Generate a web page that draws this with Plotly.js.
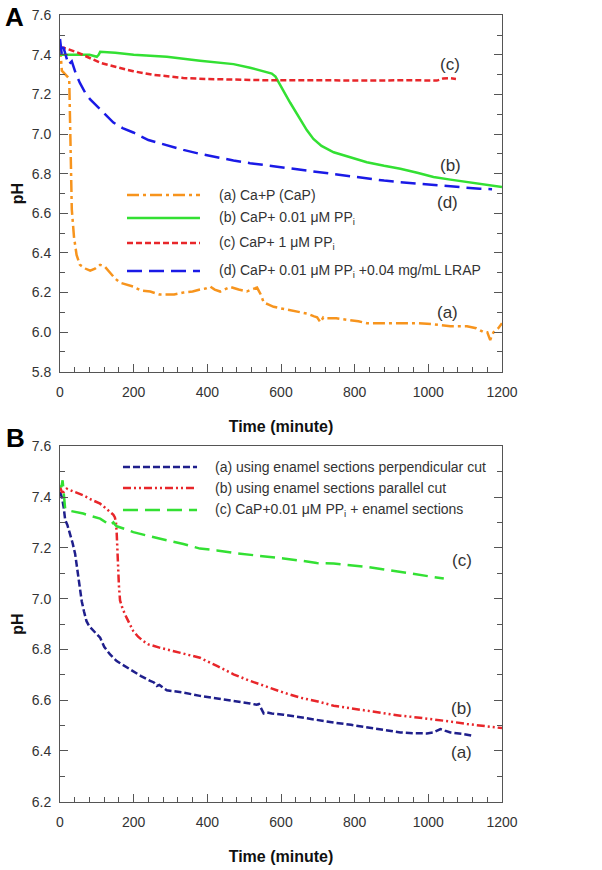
<!DOCTYPE html>
<html>
<head>
<meta charset="utf-8">
<script src="https://cdn.plot.ly/plotly-3.0.1.min.js"></script>
<style>
  body { margin: 0; background: #fff; }
  #plotArea { width: 602px; height: 870px; }
</style>
</head>
<body>
<div id="plotArea"></div>
<script>
// ---- panel A : pH vs time ----
var tA = [0, 5, 15, 25, 28, 30, 32, 38, 45, 54, 70, 82, 95, 109, 122, 136, 150, 163, 180, 199, 220, 245, 270, 290, 310, 335, 360, 380, 395, 408, 420, 435, 450, 462, 485, 507, 520, 535, 545, 553, 565, 580, 600, 625, 650, 670, 690, 698, 707, 715, 725, 750, 788, 810, 833, 870, 924, 970, 1014, 1040, 1060, 1080, 1105, 1130, 1150, 1160, 1168, 1172, 1177, 1190, 1200];
var pA = [7.45, 7.32, 7.30, 7.28, 7.0, 6.8, 6.62, 6.48, 6.39, 6.34, 6.32, 6.31, 6.32, 6.34, 6.33, 6.30, 6.27, 6.25, 6.24, 6.23, 6.21, 6.205, 6.19, 6.19, 6.19, 6.2, 6.205, 6.215, 6.22, 6.23, 6.215, 6.205, 6.22, 6.228, 6.215, 6.205, 6.215, 6.225, 6.19, 6.15, 6.14, 6.128, 6.12, 6.11, 6.10, 6.094, 6.08, 6.075, 6.05, 6.075, 6.07, 6.07, 6.06, 6.055, 6.045, 6.045, 6.045, 6.045, 6.04, 6.035, 6.03, 6.03, 6.03, 6.02, 6.0, 6.0, 5.96, 5.98, 6.0, 6.02, 6.045];

var tB = [0, 20, 50, 80, 100, 105, 109, 150, 200, 290, 380, 471, 516, 545, 562, 575, 585, 598, 612, 625, 640, 652, 670, 688, 710, 743, 790, 833, 880, 924, 970, 1014, 1060, 1105, 1150, 1200];
var pB = [7.40, 7.40, 7.40, 7.40, 7.39, 7.40, 7.415, 7.41, 7.40, 7.39, 7.37, 7.353, 7.335, 7.32, 7.315, 7.305, 7.29, 7.25, 7.2, 7.158, 7.11, 7.075, 7.02, 6.975, 6.94, 6.908, 6.88, 6.858, 6.84, 6.825, 6.805, 6.783, 6.77, 6.758, 6.745, 6.733];

var tC = [0, 20, 50, 80, 109, 150, 199, 250, 300, 335, 400, 471, 550, 650, 750, 800, 850, 950, 1023, 1040, 1060, 1075];
var pC = [7.44, 7.43, 7.41, 7.385, 7.36, 7.34, 7.317, 7.3, 7.29, 7.283, 7.278, 7.275, 7.272, 7.272, 7.27, 7.268, 7.27, 7.272, 7.27, 7.28, 7.282, 7.278];

var tD = [0, 3, 5, 9, 16, 23, 32, 42, 54, 68, 82, 95, 109, 127, 145, 170, 199, 240, 290, 335, 380, 425, 471, 516, 562, 607, 652, 700, 743, 790, 833, 880, 924, 970, 1014, 1060, 1105, 1140, 1173];
var pD = [7.48, 7.44, 7.40, 7.44, 7.40, 7.35, 7.367, 7.31, 7.258, 7.21, 7.175, 7.15, 7.125, 7.09, 7.058, 7.03, 7.008, 6.97, 6.942, 6.92, 6.9, 6.883, 6.867, 6.853, 6.842, 6.83, 6.817, 6.807, 6.797, 6.787, 6.775, 6.765, 6.757, 6.75, 6.74, 6.733, 6.728, 6.724, 6.722];

// ---- panel B ----
var tE = [0, 5, 10, 14, 20, 27, 34, 41, 50, 54, 59, 65, 72, 80, 91, 100, 109, 120, 136, 154, 175, 199, 220, 245, 255, 263, 270, 290, 335, 380, 426, 471, 516, 534, 540, 546, 553, 562, 575, 607, 652, 700, 743, 790, 833, 880, 924, 960, 996, 1014, 1033, 1045, 1060, 1090, 1119];
var pE = [7.42, 7.40, 7.36, 7.31, 7.29, 7.256, 7.22, 7.177, 7.072, 7.03, 6.99, 6.95, 6.911, 6.89, 6.872, 6.86, 6.846, 6.81, 6.78, 6.754, 6.735, 6.715, 6.695, 6.676, 6.67, 6.656, 6.66, 6.639, 6.63, 6.617, 6.608, 6.597, 6.587, 6.582, 6.585, 6.565, 6.548, 6.552, 6.548, 6.543, 6.532, 6.522, 6.512, 6.503, 6.493, 6.483, 6.473, 6.47, 6.469, 6.473, 6.486, 6.48, 6.473, 6.468, 6.46];

var tF = [0, 5, 10, 18, 40, 63, 85, 109, 125, 136, 145, 149, 152, 154, 156, 158, 160, 163, 170, 181, 190, 199, 212, 226, 240, 254, 270, 290, 320, 344, 380, 426, 471, 516, 562, 607, 652, 700, 743, 790, 833, 880, 924, 970, 1014, 1060, 1105, 1150, 1200];
var pF = [7.44, 7.42, 7.42, 7.433, 7.42, 7.407, 7.39, 7.374, 7.355, 7.341, 7.33, 7.32, 7.30, 7.256, 7.18, 7.11, 7.05, 6.993, 6.96, 6.924, 6.895, 6.872, 6.85, 6.833, 6.82, 6.813, 6.807, 6.8, 6.79, 6.78, 6.767, 6.735, 6.702, 6.676, 6.652, 6.63, 6.61, 6.595, 6.578, 6.568, 6.558, 6.548, 6.539, 6.532, 6.525, 6.516, 6.506, 6.498, 6.49];

var tG = [0, 4, 7, 10, 14, 30, 63, 85, 109, 125, 136, 141, 145, 150, 154, 175, 199, 245, 290, 335, 380, 426, 471, 516, 562, 607, 652, 697, 743, 790, 833, 880, 924, 970, 1042];
var pG = [7.446, 7.44, 7.466, 7.40, 7.354, 7.345, 7.335, 7.325, 7.315, 7.30, 7.289, 7.295, 7.30, 7.29, 7.285, 7.275, 7.262, 7.245, 7.23, 7.215, 7.197, 7.19, 7.18, 7.173, 7.167, 7.158, 7.15, 7.14, 7.138, 7.132, 7.125, 7.115, 7.105, 7.095, 7.079];

var namesA = ["(a) Ca+P (CaP)", "(b) CaP+ 0.01 μM PP<sub>i</sub>", "(c) CaP+ 1 μM PP<sub>i</sub>", "(d) CaP+ 0.01 μM PP<sub>i</sub> +0.04 mg/mL LRAP"];
var namesB = ["(a) using enamel sections perpendicular cut", "(b) using enamel sections parallel cut", "(c) CaP+0.01 μM PP<sub>i</sub> + enamel sections"];

var font = "Liberation Sans, Arial, sans-serif";
var orange = "#F7941D", green = "#33E033", red = "#E8262A", blue = "#1A1AE6", navy = "#1F1F8C";

// styles: [color, dash] per series
var stylesA = [[orange, "12px,4px,3px,4px"], [green, "solid"], [red, "6px,3px"], [blue, "15px,7px"]];
var stylesB = [[navy, "7px,3px"], [red, "8px,3px,2px,3px,2px,3px"], [green, "15px,7px"]];

function tr(x, y, st, xa, ya) {
    return {x: x, y: y, mode: "lines", type: "scatter", xaxis: xa, yaxis: ya,
        line: {color: st[0], dash: st[1], width: 2.5}, showlegend: false, hoverinfo: "skip"};
}

var data = [
    tr(tA, pA, stylesA[0], "x", "y"),
    tr(tB, pB, stylesA[1], "x", "y"),
    tr(tC, pC, stylesA[2], "x", "y"),
    tr(tD, pD, stylesA[3], "x", "y"),
    tr(tE, pE, stylesB[0], "x2", "y2"),
    tr(tF, pF, stylesB[1], "x2", "y2"),
    tr(tG, pG, stylesB[2], "x2", "y2")
];

function xax(anchor) {
    return {anchor: anchor, range: [0, 1200], dtick: 200, ticks: "inside", ticklen: 8, tickcolor: "#555",
        minor: {dtick: 40, ticks: "inside", ticklen: 5, tickcolor: "#555"},
        showline: true, linecolor: "#555", linewidth: 1, mirror: true, showgrid: false, zeroline: false,
        automargin: false, ticklabelstandoff: 7, tickfont: {family: font, size: 14, color: "#333"},
        title: {text: "<b>Time (minute)</b>", font: {family: font, size: 16, color: "#111"}, standoff: 22}};
}
function yax(anchor, r, dom) {
    return {anchor: anchor, domain: dom, range: r, dtick: 0.2, tickformat: ".1f", ticks: "inside", ticklen: 8, tickcolor: "#555",
        minor: {dtick: 0.1, ticks: "inside", ticklen: 5, tickcolor: "#555"},
        showline: true, linecolor: "#555", linewidth: 1, mirror: "ticks", showgrid: false, zeroline: false,
        automargin: false, ticklabelstandoff: 5, tickfont: {family: font, size: 14, color: "#333"},
        title: {text: "<b>pH</b>", font: {family: font, size: 16, color: "#111"}, standoff: 4}};
}

// hand-drawn legends: sample lines + text
var shapes = [], annotations = [];
var legA = {x0: 0.1516, x1: 0.3167, xt: 0.355, rows: [0.496, 0.431, 0.361, 0.283]};
var legB = {x0: 0.1425, x1: 0.31, xt: 0.346, rows: [0.941, 0.882, 0.820]};
function addLegend(leg, names, styles, xr, yr) {
    names.forEach(function(n, i) {
        shapes.push({type: "line", xref: xr + " domain", yref: yr + " domain", x0: leg.x0, x1: leg.x1,
            y0: leg.rows[i], y1: leg.rows[i], line: {color: styles[i][0], dash: styles[i][1], width: 2.5}});
        annotations.push({xref: xr + " domain", yref: yr + " domain", x: leg.xt, y: leg.rows[i], text: n,
            showarrow: false, xanchor: "left", yanchor: "middle", font: {family: font, size: 14, color: "#333"}});
    });
}
addLegend(legA, namesA, stylesA, "x", "y");
addLegend(legB, namesB, stylesB, "x2", "y2");

// curve labels
var lblA = [["(c)", 1059, 7.35], ["(b)", 1059, 6.84], ["(d)", 1053, 6.657], ["(a)", 1053, 6.10]];
var lblB = [["(c)", 1091, 7.151], ["(b)", 1091, 6.569], ["(a)", 1091, 6.395]];
lblA.forEach(function(l) {
    annotations.push({xref: "x", yref: "y", x: l[1], y: l[2], text: l[0], showarrow: false,
        xanchor: "center", yanchor: "middle", font: {family: font, size: 17, color: "#333"}});
});
lblB.forEach(function(l) {
    annotations.push({xref: "x2", yref: "y2", x: l[1], y: l[2], text: l[0], showarrow: false,
        xanchor: "center", yanchor: "middle", font: {family: font, size: 17, color: "#333"}});
});
// panel letters
annotations.push({xref: "paper", yref: "paper", x: -0.102, y: 0.9975, text: "<b>A</b>", showarrow: false,
    xanchor: "center", yanchor: "middle", font: {family: font, size: 26, color: "#000"}});
annotations.push({xref: "paper", yref: "paper", x: -0.1, y: 0.462, text: "<b>B</b>", showarrow: false,
    xanchor: "center", yanchor: "middle", font: {family: font, size: 26, color: "#000"}});

var layout = {
    width: 602, height: 870,
    margin: {l: 60, r: 100, t: 15, b: 68},
    paper_bgcolor: "#fff", plot_bgcolor: "#fff",
    font: {family: font},
    xaxis: xax("y"),
    yaxis: yax("x", [5.799, 7.601], [0.5464, 1]),
    xaxis2: xax("y2"),
    yaxis2: yax("x2", [6.199, 7.601], [0, 0.4523]),
    shapes: shapes,
    annotations: annotations
};

Plotly.newPlot("plotArea", data, layout, {staticPlot: true});
</script>
</body>
</html>
